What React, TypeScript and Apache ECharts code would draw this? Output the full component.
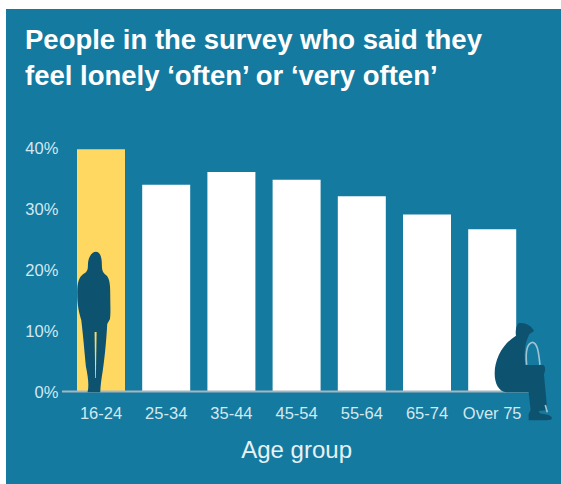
import React, { useEffect, useRef } from "react";
import * as echarts from "echarts";

const titleLines = ["People in the survey who said they", "feel lonely ‘often’ or ‘very often’"];
const categories = ["16-24", "25-34", "35-44", "45-54", "55-64", "65-74", "Over 75"];
const lonelyShare = [39.7, 33.9, 36, 34.7, 32, 29, 26.6];
const highlightedIndex = 0;
const xAxisTitle = "Age group";

const TEAL = "#147aa0";
const DARK = "#0d5370";
const YELLOW = "#ffd862";
const LABEL = "#d3e8ef";

const standingPerson =
  "M288 65 C302 65 306 85 306 105 C306 118 308 128 318 135 C328 142 331 160 331 190 C331 220 333 250 330 268 L322 282 C320 320 316 370 309 420 C305 445 302 465 301 487 L263 487 C268 465 264 440 258 410 C254 370 250 320 244 270 C238 250 232 230 232 190 C232 160 236 142 250 132 C262 126 264 120 264 105 C264 85 274 65 288 65 Z";
const sittingPerson =
  "M85 25 C100 20 125 30 132 48 L118 58 L112 72 C104 90 102 120 106 150 L160 150 C168 155 166 168 162 178 L172 285 L146 288 L150 296 C170 298 186 302 186 310 C186 316 170 316 150 316 L116 316 L116 298 L122 285 L116 232 L50 232 C25 230 14 205 14 175 C14 130 40 85 78 62 C76 50 78 35 85 25 Z";
const caneHook = "M110 150 C106 110 112 85 128 82 C142 84 146 110 150 150 M166 270 L172 292";

echarts.graphic.registerShape("standingPerson", echarts.graphic.extendPath(standingPerson as any, {}) as any);
echarts.graphic.registerShape("sittingPerson", echarts.graphic.extendPath(sittingPerson as any, {}) as any);
echarts.graphic.registerShape("caneHook", echarts.graphic.extendPath(caneHook as any, {}) as any);

export default function App() {
  const ref = useRef<HTMLDivElement>(null);

  useEffect(() => {
    document.body.style.margin = "0";
    const chart = echarts.init(ref.current!, undefined, { renderer: "svg" });
    chart.setOption({
      animation: false,
      backgroundColor: "#ffffff",
      textStyle: { fontFamily: "Liberation Sans" },
      title: {
        text: titleLines.join("\n"),
        left: 20,
        top: 17,
        textStyle: {
          color: "#ffffff",
          fontFamily: "Liberation Sans",
          fontWeight: "bold",
          fontSize: 27.5,
          lineHeight: 35.5,
        },
      },
      grid: { left: 68.4, top: 147.5, width: 456.4, height: 244 },
      xAxis: {
        type: "category",
        data: categories,
        name: xAxisTitle,
        nameLocation: "middle",
        nameGap: 46,
        nameTextStyle: { color: "#e6f2f6", fontSize: 24, fontFamily: "Liberation Sans" },
        axisLine: { show: false },
        axisTick: { show: false },
        axisLabel: { color: LABEL, fontSize: 16.5, margin: 13, interval: 0 },
      },
      yAxis: {
        type: "value",
        min: 0,
        max: 40,
        interval: 10,
        axisLine: { show: false },
        axisTick: { show: false },
        splitLine: { show: false },
        axisLabel: { color: LABEL, fontSize: 16.5, margin: 10, padding: [0, 0, 2, 0], formatter: "{value}%" },
      },
      series: [
        {
          type: "bar",
          barWidth: 48,
          z: 3,
          data: lonelyShare.map((value, i) => ({
            value,
            itemStyle: { color: i === highlightedIndex ? YELLOW : "#ffffff" },
          })),
        },
      ],
      graphic: [
        { type: "rect", z: -10, silent: true, shape: { x: 6, y: 9, width: 555, height: 475 }, style: { fill: TEAL } },
        { type: "line", z: 5, silent: true, shape: { x1: 62, y1: 391.5, x2: 529, y2: 391.5 }, style: { stroke: "#a6b5bf", lineWidth: 2 } },
        { type: "standingPerson", z: 10, x: 0, y: 230, scaleX: 1 / 3, scaleY: 1 / 3, style: { fill: DARK } },
        { type: "polygon", z: 11, silent: true, shape: { points: [[94.6, 332], [96.6, 332], [95.9, 378], [95.2, 378]] }, style: { fill: YELLOW } },
        { type: "sittingPerson", z: 10, x: 490, y: 315, scaleX: 1 / 3, scaleY: 1 / 3, style: { fill: DARK } },
        { type: "caneHook", z: 11, x: 490, y: 315, scaleX: 1 / 3, scaleY: 1 / 3, style: { fill: "none", stroke: "#9cc4d2", lineWidth: 5 } },
      ],
    });
    return () => chart.dispose();
  }, []);

  return <div ref={ref} style={{ width: 561, height: 484 }} />;
}
